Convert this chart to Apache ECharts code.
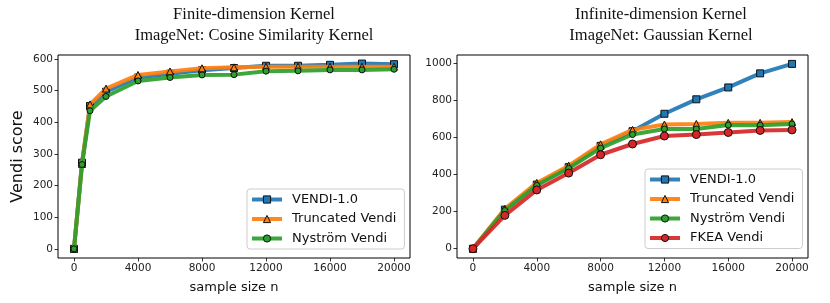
<!DOCTYPE html>
<html><head><meta charset="utf-8">
<script src="https://cdn.jsdelivr.net/npm/echarts@6/dist/echarts.min.js"></script>
<style>html,body{margin:0;padding:0;background:#fff}#c{width:830px;height:303px}</style>
</head><body><div id="c"></div>
<script>
// ---- data ----
const xLeft = [0, 500, 1000, 2000, 4000, 6000, 8000, 10000, 12000, 14000, 16000, 18000, 20000];
const vendiLeft = [0, 272, 451, 496, 541, 553, 564, 571, 578, 578, 581, 585, 583];
const truncLeft = [0, 268, 456, 506, 549, 560, 570, 573, 575, 575, 575, 575, 575];
const nystLeft  = [0, 266, 436, 481, 530, 541, 549, 550, 561, 562, 565, 565, 567];

const xRight = [0, 2000, 4000, 6000, 8000, 10000, 12000, 14000, 16000, 18000, 20000];
const vendiRight = [0, 211, 346, 440, 555, 634, 728, 806, 870, 946, 997];
const truncRight = [0, 215, 355, 448, 563, 641, 670, 673, 679, 679, 683];
const nystRight  = [0, 206, 342, 434, 543, 616, 646, 646, 667, 666, 673];
const fkeaRight  = [0, 180, 317, 408, 507, 565, 608, 616, 627, 638, 641];

const xTicks = [0, 4000, 8000, 12000, 16000, 20000];
const yTicksLeft = [0, 100, 200, 300, 400, 500, 600];
const yTicksRight = [0, 200, 400, 600, 800, 1000];

const titleLeft = 'Finite-dimension Kernel\nImageNet: Cosine Similarity Kernel';
const titleRight = 'Infinite-dimension Kernel\nImageNet: Gaussian Kernel';
const names = ['VENDI-1.0', 'Truncated Vendi', 'Nyström Vendi', 'FKEA Vendi'];

// ---- styles ----
const colors = ['#1f77b4', '#ff7f0e', '#2ca02c', '#d62728'];
const symbols = ['rect', 'triangle', 'circle', 'circle'];
const symSizes = [7, 7, 6, 8];
const tickFont = {fontFamily: 'DejaVu Sans', fontSize: 10.5, color: '#222', formatter: v => String(v)};

function mkSeries(name, idx, xs, ys, axisIdx) {
  return {
    name: name, type: 'line', xAxisIndex: axisIdx, yAxisIndex: axisIdx,
    data: xs.map((x, i) => [x, ys[i]]),
    symbol: symbols[idx], symbolSize: symSizes[idx],
    showAllSymbol: true,
    lineStyle: {color: colors[idx], width: 4, opacity: 0.92},
    itemStyle: {color: colors[idx], borderColor: '#111', borderWidth: 1},
    emphasis: {disabled: true}, animation: false, z: 2 + idx
  };
}
function mkX(gi) {
  return {
    type: 'value', gridIndex: gi, min: -1000, max: 21000,
    name: 'sample size n', nameLocation: 'middle', nameGap: 23,
    nameTextStyle: {fontFamily: 'DejaVu Sans', fontSize: 13, color: '#111'},
    axisLine: {show: false, onZero: false},
    axisTick: {show: true, inside: false, length: 3.5, lineStyle: {color: '#000', width: 0.8}, customValues: xTicks},
    axisLabel: Object.assign({customValues: xTicks, margin: 5}, tickFont),
    splitLine: {show: false}
  };
}
function mkY(gi, min, max, ticks, name) {
  return {
    type: 'value', gridIndex: gi, min: min, max: max,
    name: name, nameLocation: 'middle', nameGap: 32,
    nameTextStyle: {fontFamily: 'DejaVu Sans', fontSize: 16, color: '#111'},
    axisLine: {show: false, onZero: false},
    axisTick: {show: true, inside: false, length: 3.5, lineStyle: {color: '#000', width: 0.8}, customValues: ticks},
    axisLabel: Object.assign({customValues: ticks, margin: 5}, tickFont),
    splitLine: {show: false}
  };
}
function mkLegend(data, left, top) {
  return {
    data: data, orient: 'vertical', left: left, top: top,
    itemWidth: 30, itemHeight: 9, itemGap: 6.5,
    padding: [4, 8, 4, 3],
    backgroundColor: 'rgba(255,255,255,0.85)', borderColor: '#ccc', borderWidth: 1, borderRadius: 3,
    textStyle: {fontFamily: 'DejaVu Sans', fontSize: 13, color: '#111', padding: [0, 0, 0, 5]},
    lineStyle: {width: 4},
    itemStyle: {borderWidth: 1, borderColor: '#111'},
    selectedMode: false
  };
}

const option = {
  animation: false,
  backgroundColor: '#fff',
  title: [
    {text: titleLeft, left: 249, top: -1, textAlign: 'center',
     textStyle: {fontFamily: 'Liberation Serif', fontSize: 16.5, fontWeight: 'normal', color: '#111', lineHeight: 21}},
    {text: titleRight, left: 656, top: -1, textAlign: 'center',
     textStyle: {fontFamily: 'Liberation Serif', fontSize: 16.5, fontWeight: 'normal', color: '#111', lineHeight: 21}}
  ],
  grid: [
    {left: 58, top: 55, width: 352, height: 203, show: true, borderColor: '#000', borderWidth: 1, backgroundColor: 'transparent'},
    {left: 457, top: 55, width: 351, height: 203, show: true, borderColor: '#000', borderWidth: 1, backgroundColor: 'transparent'}
  ],
  xAxis: [mkX(0), mkX(1)],
  yAxis: [mkY(0, -29, 612, yTicksLeft, 'Vendi score'), mkY(1, -50, 1045, yTicksRight, '')],
  legend: [
    mkLegend(names.slice(0, 3), 247, 189),
    mkLegend(names.slice(0, 4), 645, 169)
  ],
  series: [
    mkSeries(names[0], 0, xLeft, vendiLeft, 0),
    mkSeries(names[1], 1, xLeft, truncLeft, 0),
    mkSeries(names[2], 2, xLeft, nystLeft, 0),
    mkSeries(names[0], 0, xRight, vendiRight, 1),
    mkSeries(names[1], 1, xRight, truncRight, 1),
    mkSeries(names[2], 2, xRight, nystRight, 1),
    mkSeries(names[3], 3, xRight, fkeaRight, 1)
  ]
};
const chart = echarts.init(document.getElementById('c'), null, {renderer: 'canvas'});
chart.setOption(option);
</script>
</body></html>
